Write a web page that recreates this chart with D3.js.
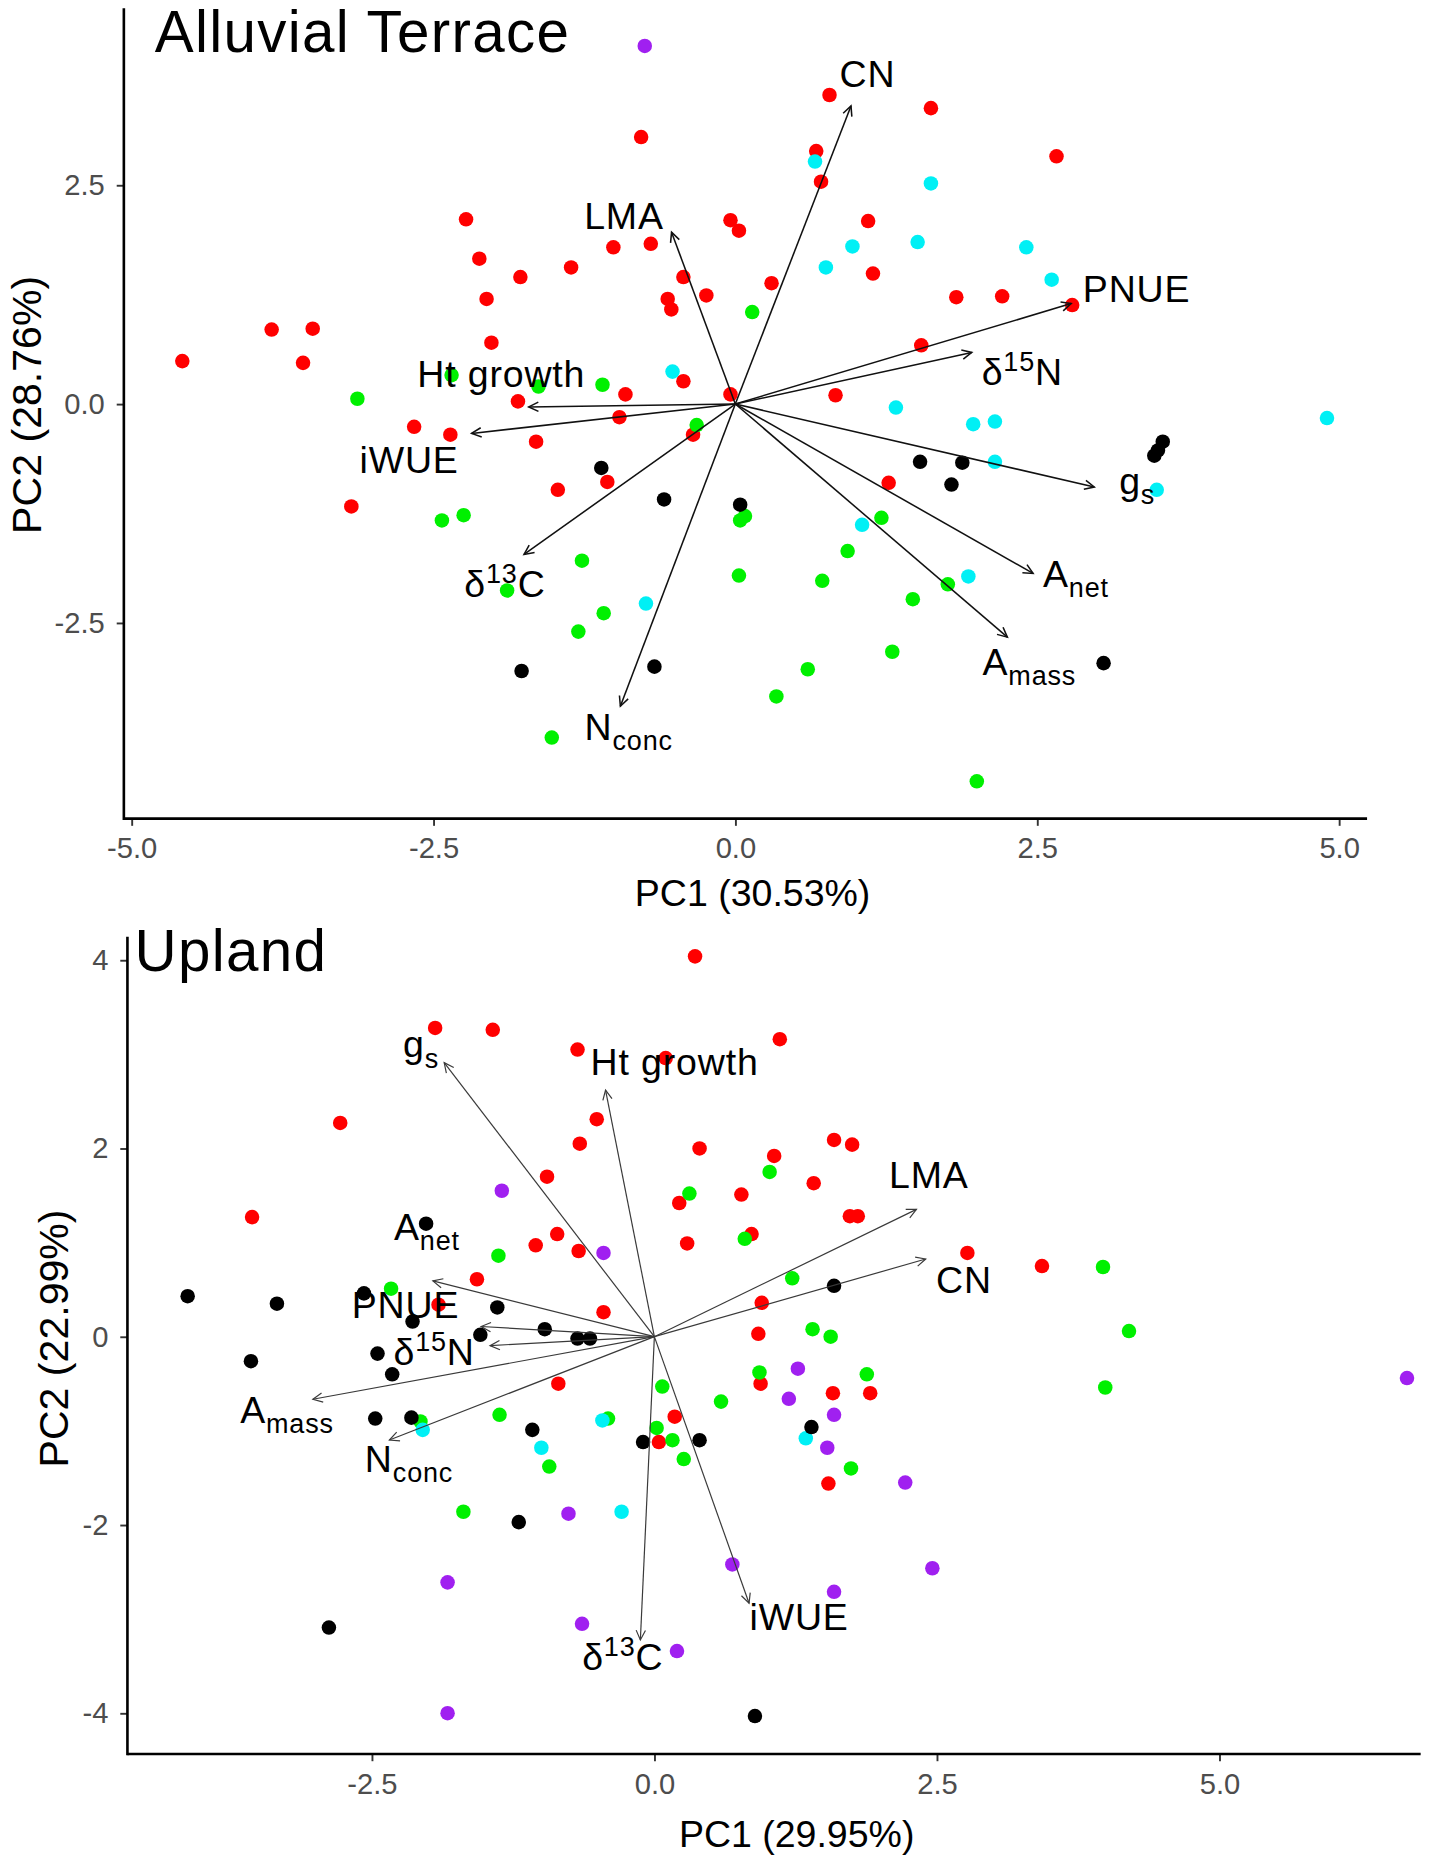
<!DOCTYPE html>
<html>
<head>
<meta charset="utf-8">
<script src="https://cdnjs.cloudflare.com/ajax/libs/d3/7.8.5/d3.min.js"></script>
<style>
  body { margin: 0; background: #fff; }
  text { font-family: "Liberation Sans", Arial, sans-serif; }
</style>
</head>
<body>
<script>
// ---- Alluvial Terrace scores (PC1, PC2) per group ----
var terraceRed = [[-0.78,3.05],[-2.23,2.11],[-0.70,1.83],[-1.01,1.79],[-2.12,1.66],[-1.36,1.56],[-1.78,1.45],[-0.43,1.45],[-0.24,1.24],[-2.06,1.20],[-0.56,1.20],[-0.53,1.08],[-3.84,0.85],[-3.50,0.86],[-2.02,0.70],[-4.58,0.49],[-3.58,0.47],[-0.43,0.26],[-0.91,0.11],[-1.80,0.03],[-0.96,-0.15],[-0.35,-0.35],[-2.66,-0.26],[-2.36,-0.35],[-1.65,-0.43],[-1.06,-0.89],[-1.47,-0.98],[-3.18,-1.17],[0.78,3.53],[1.62,3.38],[2.66,2.83],[0.67,2.89],[0.71,2.54],[-0.04,2.10],[0.03,1.98],[1.10,2.09],[1.14,1.49],[0.30,1.38],[1.83,1.22],[2.21,1.23],[2.79,1.13],[1.54,0.67],[-0.04,0.11],[0.83,0.10],[1.27,-0.90]];
var terraceCyan = [[-0.52,0.37],[0.66,2.77],[1.62,2.52],[0.97,1.80],[1.51,1.85],[2.41,1.79],[0.75,1.56],[2.62,1.42],[1.33,-0.04],[1.97,-0.23],[2.15,-0.20],[4.90,-0.16],[2.15,-0.66],[3.49,-0.98],[1.05,-1.38],[1.93,-1.97],[-0.74,-2.28]];
var terraceBlack = [[-1.11,-0.73],[-0.59,-1.09],[-1.77,-3.05],[-0.67,-3.00],[1.53,-0.66],[1.88,-0.67],[1.79,-0.92],[3.54,-0.43],[3.50,-0.53],[3.47,-0.59],[0.04,-1.15],[3.05,-2.96]];
var terraceGreen = [[-2.35,0.33],[-1.63,0.20],[-1.10,0.22],[-3.13,0.06],[-0.32,-0.24],[0.14,1.05],[-2.43,-1.33],[-2.25,-1.27],[-1.27,-1.79],[-1.89,-2.13],[-1.09,-2.39],[-1.30,-2.60],[-1.52,-3.81],[0.04,-1.33],[0.08,-1.28],[1.21,-1.30],[0.93,-1.68],[0.03,-1.96],[0.72,-2.02],[1.76,-2.06],[1.47,-2.23],[1.30,-2.83],[0.60,-3.03],[0.34,-3.34],[2.00,-4.31]];
var terracePurple = [[-0.75,4.09]];

// ---- Alluvial Terrace loadings ----
var terraceVars = ["CN","LMA","PNUE","δ^{15}N","Ht growth","iWUE","δ^{13}C","N_{conc}","g_{s}","A_{net}","A_{mass}"];
var terraceLoadPC1 = [0.958,-0.528,2.781,1.958,-1.711,-2.184,-1.750,-0.952,2.973,2.466,2.253];
var terraceLoadPC2 = [3.405,1.963,1.147,0.589,-0.033,-0.336,-1.718,-3.452,-0.948,-1.935,-2.663];
var terraceLabPC1 = [1.095,-0.922,3.323,2.377,-1.938,-2.702,-1.908,-0.883,3.328,2.821,2.435];
var terraceLabPC2 = [3.623,2.004,1.167,0.222,0.194,-0.792,-2.200,-3.833,-1.030,-2.090,-3.098];

// ---- Upland scores ----
var uplandRed = [[0.36,4.04],[-1.94,3.28],[-1.43,3.26],[-0.68,3.05],[0.10,2.96],[1.11,3.16],[-2.78,2.27],[-0.51,2.31],[-0.66,2.05],[0.40,2.00],[-0.95,1.70],[0.22,1.42],[-3.56,1.27],[-0.86,1.09],[-1.05,0.97],[-0.67,0.91],[0.29,0.99],[-1.57,0.61],[-1.91,0.34],[-0.45,0.26],[-0.85,-0.50],[1.59,2.09],[1.75,2.04],[1.06,1.92],[1.41,1.63],[0.77,1.51],[1.73,1.28],[1.80,1.28],[0.86,1.09],[2.77,0.89],[3.43,0.75],[0.95,0.36],[0.92,0.03],[0.18,-0.85],[0.04,-1.12],[0.94,-0.50],[1.58,-0.60],[1.91,-0.60],[1.54,-1.56]];
var uplandGreen = [[0.31,1.52],[-1.38,0.86],[-2.33,0.51],[1.02,1.75],[0.80,1.04],[3.97,0.74],[1.22,0.62],[1.40,0.08],[1.56,0.00],[4.20,0.06],[0.93,-0.38],[1.88,-0.40],[0.07,-0.53],[0.59,-0.69],[-2.07,-0.90],[-1.37,-0.83],[-0.41,-0.87],[0.02,-0.97],[0.16,-1.10],[0.26,-1.30],[-0.93,-1.38],[-1.69,-1.86],[3.99,-0.54],[1.74,-1.40]];
var uplandBlack = [[-2.02,1.20],[-4.13,0.43],[-3.34,0.35],[-2.57,0.46],[-1.39,0.31],[-2.14,0.16],[-0.97,0.08],[-1.54,0.02],[-0.68,-0.02],[-0.57,-0.02],[-3.57,-0.26],[-2.45,-0.18],[-2.32,-0.40],[-2.47,-0.87],[-2.15,-0.86],[-1.08,-0.99],[-0.10,-1.12],[0.40,-1.10],[-1.20,-1.97],[-2.88,-3.09],[1.59,0.54],[1.39,-0.96],[0.89,-4.03]];
var uplandCyan = [[-2.05,-0.99],[-0.46,-0.89],[-1.00,-1.18],[-0.29,-1.86],[1.34,-1.08]];
var uplandPurple = [[-1.35,1.55],[-0.45,0.89],[1.27,-0.34],[6.66,-0.44],[1.19,-0.66],[1.59,-0.83],[1.53,-1.18],[2.22,-1.55],[-0.76,-1.88],[-1.83,-2.61],[0.69,-2.42],[2.46,-2.46],[1.59,-2.71],[-0.64,-3.05],[0.20,-3.34],[-1.83,-4.00]];

// ---- Upland loadings ----
var uplandVars = ["g_{s}","Ht growth","LMA","CN","A_{net}","PNUE","δ^{15}N","A_{mass}","N_{conc}","δ^{13}C","iWUE"];
var uplandLoadPC1 = [-1.860,-0.432,2.319,2.401,-1.960,-1.533,-1.454,-3.022,-2.345,-0.124,0.838];
var uplandLoadPC2 = [2.911,2.620,1.352,0.825,0.592,0.108,-0.095,-0.665,-1.098,-3.222,-2.832];
var uplandLabPC1 = [-2.065,0.179,2.429,2.740,-2.013,-2.202,-1.949,-3.251,-2.171,-0.279,1.281];
var uplandLabPC2 = [2.966,2.778,1.575,0.462,1.031,0.196,-0.297,-0.920,-1.436,-3.536,-3.120];

var terraceXTicks = [-5, -2.5, 0, 2.5, 5],
    terraceYTicks = [-2.5, 0, 2.5],
    uplandXTicks = [-2.5, 0, 2.5, 5],
    uplandYTicks = [-4, -2, 0, 2, 4];

var groupColors = { red: "#ff0000", green: "#00f000", cyan: "#00f0f5", purple: "#a020f0", black: "#000000" };

var svg = d3.select("body").append("svg")
    .attr("width", 1429).attr("height", 1866)
    .attr("viewBox", "0 0 1200 1567");

// label with plotmath-like sub/superscripts: "A_{net}", "δ^{15}N"
function addLabel(g, str, x, y, size) {
    var t = g.append("text")
        .attr("x", x).attr("y", y)
        .attr("text-anchor", "middle")
        .attr("font-size", size)
        .attr("letter-spacing", 0.7)
        .attr("fill", "#000");
    var parts = str.match(/[_^]\{[^}]*\}|[^_^]+/g);
    var off = 0;
    parts.forEach(function(p) {
        var shift = 0, txt = p, small = false;
        if (p[0] == "_") { shift = 0.27 * size; txt = p.slice(2, -1); small = true; }
        else if (p[0] == "^") { shift = -0.36 * size; txt = p.slice(2, -1); small = true; }
        t.append("tspan")
            .attr("dy", shift - off)
            .attr("font-size", small ? size * 0.72 : size)
            .text(txt);
        off = shift;
    });
}

function panel(cfg) {
    var g = svg.append("g");
    var x = d3.scaleLinear().domain(cfg.xDomain).range(cfg.xRange),
        y = d3.scaleLinear().domain(cfg.yDomain).range(cfg.yRange);

    // points
    cfg.groups.forEach(function(grp) {
        g.append("g").selectAll("circle")
            .data(grp.data)
          .enter().append("circle")
            .attr("cx", function(d) { return x(d[0]); })
            .attr("cy", function(d) { return y(d[1]); })
            .attr("r", 6.1)
            .attr("fill", groupColors[grp.color]);
    });

    // loading arrows
    var ox = x(0), oy = y(0);
    cfg.vars.forEach(function(v, i) {
        var tx = x(cfg.loadX[i]), ty = y(cfg.loadY[i]);
        var a = Math.atan2(ty - oy, tx - ox), L = 9, phi = Math.PI / 7;
        g.append("line")
            .attr("x1", ox).attr("y1", oy).attr("x2", tx).attr("y2", ty)
            .attr("stroke", cfg.arrowColor).attr("stroke-width", cfg.arrowWidth);
        g.append("path")
            .attr("d", "M" + (tx - L * Math.cos(a - phi)) + "," + (ty - L * Math.sin(a - phi)) +
                "L" + tx + "," + ty +
                "L" + (tx - L * Math.cos(a + phi)) + "," + (ty - L * Math.sin(a + phi)))
            .attr("fill", "none")
            .attr("stroke", cfg.arrowColor).attr("stroke-width", cfg.arrowWidth);
    });

    cfg.vars.forEach(function(v, i) {
        addLabel(g, v, x(cfg.labX[i]), y(cfg.labY[i]), 31.5);
    });

    // axes
    var xAxis = g.append("g")
        .attr("transform", "translate(0," + cfg.yRange[0] + ")")
        .call(d3.axisBottom(x).tickValues(cfg.xTicks).tickSize(6).tickSizeOuter(0).tickPadding(10)
            .tickFormat(function(d) { return d.toFixed(1); }));
    var yAxis = g.append("g")
        .attr("transform", "translate(" + cfg.xRange[0] + ",0)")
        .call(d3.axisLeft(y).tickValues(cfg.yTicks).tickSize(6).tickSizeOuter(0).tickPadding(10)
            .tickFormat(cfg.yFormat));
    [xAxis, yAxis].forEach(function(ax) {
        ax.select(".domain").remove();
        ax.selectAll(".tick line").attr("stroke", "#333").attr("stroke-width", 1.6);
        ax.selectAll(".tick text").attr("font-size", 24.5).attr("fill", "#4d4d4d")
            .attr("font-family", "Liberation Sans, Arial, sans-serif");
    });
    g.append("line")
        .attr("x1", cfg.xRange[0]).attr("x2", cfg.xRange[1])
        .attr("y1", cfg.yRange[0]).attr("y2", cfg.yRange[0])
        .attr("stroke", "#000").attr("stroke-width", 2.2);
    g.append("line")
        .attr("x1", cfg.xRange[0]).attr("x2", cfg.xRange[0])
        .attr("y1", cfg.yRange[0] + 1.1).attr("y2", cfg.yRange[1])
        .attr("stroke", "#000").attr("stroke-width", 2.2);

    g.append("text")
        .attr("x", cfg.xTitleX).attr("y", cfg.xTitleY)
        .attr("text-anchor", "middle").attr("font-size", 31.5)
        .text(cfg.xTitle);
    g.append("text")
        .attr("transform", "translate(" + cfg.yTitleX + "," + cfg.yTitleY + ") rotate(-90)")
        .attr("text-anchor", "middle").attr("font-size", 34.5)
        .text(cfg.yTitle);
    g.append("text")
        .attr("x", cfg.titleX).attr("y", cfg.titleY)
        .attr("font-size", 49).attr("letter-spacing", 1.1)
        .text(cfg.title);
}

panel({
    title: "Alluvial Terrace", titleX: 130, titleY: 43.5,
    xTitle: "PC1 (30.53%)", xTitleX: 632, xTitleY: 761,
    yTitle: "PC2 (28.76%)", yTitleX: 34, yTitleY: 340,
    xDomain: [-5.064, 5.232], xRange: [104, 1148],
    yDomain: [-4.737, 4.52], yRange: [687.5, 7],
    xTicks: terraceXTicks, yTicks: terraceYTicks,
    yFormat: function(d) { return d.toFixed(1); },
    groups: [
        { color: "red", data: terraceRed },
        { color: "cyan", data: terraceCyan },
        { color: "green", data: terraceGreen },
        { color: "black", data: terraceBlack },
        { color: "purple", data: terracePurple }
    ],
    vars: terraceVars, loadX: terraceLoadPC1, loadY: terraceLoadPC2,
    labX: terraceLabPC1, labY: terraceLabPC2,
    arrowColor: "#111", arrowWidth: 1.3
});

panel({
    title: "Upland", titleX: 113, titleY: 815.5,
    xTitle: "PC1 (29.95%)", xTitleX: 669, xTitleY: 1551,
    yTitle: "PC2 (22.99%)", yTitleX: 57, yTitleY: 1124,
    xDomain: [-4.663, 6.781], xRange: [107, 1193],
    yDomain: [-4.434, 4.249], yRange: [1473, 786.6],
    xTicks: uplandXTicks, yTicks: uplandYTicks,
    yFormat: function(d) { return String(d); },
    groups: [
        { color: "red", data: uplandRed },
        { color: "green", data: uplandGreen },
        { color: "cyan", data: uplandCyan },
        { color: "purple", data: uplandPurple },
        { color: "black", data: uplandBlack }
    ],
    vars: uplandVars, loadX: uplandLoadPC1, loadY: uplandLoadPC2,
    labX: uplandLabPC1, labY: uplandLabPC2,
    arrowColor: "#3a3a3a", arrowWidth: 1.0
});
</script>
</body>
</html>
